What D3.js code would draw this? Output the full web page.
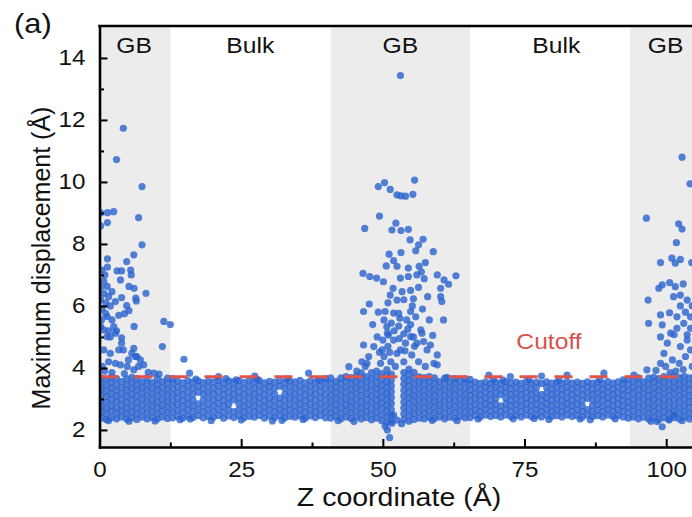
<!DOCTYPE html>
<html>
<head>
<meta charset="utf-8">
<script src="https://cdn.jsdelivr.net/npm/d3@7/dist/d3.min.js"></script>
<style>
body{margin:0;background:#fff;}
svg text{font-family:"Liberation Sans",Arial,sans-serif;fill:#111;}
</style>
</head>
<body>
<svg id="grafico" width="692" height="517"></svg>
<script>
// regioes GB (sombreadas) em Z
var regioesGB = [[-5, 12.5], [40.8, 65.4], [93.6, 115]];
var rotulos = ["GB", "Bulk", "GB", "Bulk", "GB"];
var rotulosZ = [6.1, 26.6, 53.1, 80.6, 99.9];

var ticksX = [0, 25, 50, 75, 100];
var ticksXMenor = [12.5, 37.5, 62.5, 87.5];
var ticksY = [2, 4, 6, 8, 10, 12, 14];
var ticksYMenor = [3, 5, 7, 9, 11, 13];

var cutoff = 3.72;

// pontos acima/abaixo da faixa densa [z, deslocamento]
var pontosGB1 = [[4.2,11.73],[3.0,10.72],[7.5,9.85],[0.2,9.0],[1.4,9.01],[2.5,9.04],[1.4,8.69],[6.9,8.85],[7.5,7.97],[0.2,8.58],[1.4,7.52],[6.05,7.65],[4.8,7.43],
	[1.4,7.25],[3.1,7.13],[3.9,7.13],[5.5,7.16],[5.6,7.0],[3.7,6.84],[5.2,6.63],[6.1,6.57],[1.35,6.63],[0.75,6.8],[2.2,6.46],[3.9,6.27],[6.4,6.25],[6.5,6.16],[8.2,6.41],
	[4.8,6.01],[5.2,5.85],[4.4,5.75],[6.1,5.34],[11.35,5.5],[12.5,5.4],[1.1,5.75],[1.35,5.66],[2.2,5.55],[2.5,5.33],[0.35,5.55],[0.75,5.23],[3.9,4.97],
	[0.4,7.16],[0.95,7.0],[0.2,6.6],[0.8,6.4],[1.6,6.3],[0.2,6.2],[1.1,6.1],[1.9,6.0],[2.8,6.14],[0.5,5.9],[3.4,5.7],[0.2,5.33],[1.6,5.2],[3.0,5.2],[1.9,5.0],
	[1.35,5.01],[2.8,5.12],[3.9,4.8],[4.2,4.58],[5.7,4.47],[6.6,4.37],[7.2,4.26],[1.6,4.2],[2.8,4.15],[3.7,4.1],[4.9,4.05],[6.05,3.94],[7.8,4.1],[11.1,4.69],
	[14.9,4.28],[9.6,3.83],[15.9,3.83],[6.05,4.63],[6.3,4.37],[0.75,4.58],[1.9,4.47],[3.4,4.58],[5.1,4.26],[0.5,4.05],[6.9,4.05],
	[2.2,3.85],[4.4,3.82],[8.6,3.86],[10.5,3.8],[0.9,3.9]];

var pontosGB2 = [[53.1,13.43],
	[49.2,9.85],[50.3,9.98],[51.3,9.76],[52.5,9.58],[53.2,9.55],[54.0,9.54],[55.3,9.6],[55.6,10.06],
	[49.4,8.9],[46.8,8.5],[52.3,8.67],[51.6,8.45],[53.2,8.43],[54.5,8.47],[54.8,8.13],[57.1,8.15],[56.3,7.97],[55.8,7.78],[53.2,7.72],[58.9,7.75],
	[51.1,7.67],[51.9,7.46],[50.6,7.29],[52.5,7.28],[54.5,7.22],[56.4,7.28],[57.5,7.4],[56.8,7.1],[46.5,7.05],[47.7,6.95],[48.9,6.9],[50.1,6.78],
	[53.1,6.9],[54.5,6.95],[56.0,7.0],[57.3,6.88],[59.6,7.0],[60.8,6.84],[61.6,6.7],[62.9,6.97],[51.8,6.57],[53.4,6.46],[54.9,6.5],[56.3,6.6],
	[60.2,6.57],[57.9,6.3],[60.2,6.3],[60.4,6.14],[51.3,6.35],[52.5,6.19],[53.7,6.2],[55.4,6.23],[47.6,6.06],[46.6,5.82],[49.2,5.8],[50.4,5.82],
	[51.9,5.77],[52.8,5.76],[54.9,5.82],[58.2,5.55],[60.7,5.55],[50.7,5.33],[52.8,5.35],[54.9,5.4],[56.7,5.23],[51.0,5.06],[53.7,5.1],[55.4,5.0],
	[46.6,4.74],[48.4,4.69],[50.2,4.37],[50.8,5.12],[51.9,4.9],[53.1,4.58],[54.9,5.01],[56.0,4.8],[56.9,5.12],[58.4,4.74],[59.6,4.42],[59.0,4.15],
	[57.5,4.05],[49.6,4.15],[51.4,4.2],[52.5,4.47],[53.7,4.2],[47.5,4.37],[49.0,5.0],[49.9,4.58],[52.2,4.05],[54.0,4.8],[55.1,4.42],[56.3,4.2],
	[57.8,4.58],[59.6,4.1],[46.9,4.05],[46.3,4.2],[45.4,3.9],[44.0,4.04],[47.2,4.15],
	[50.2,5.55],[51.5,5.45],[53.0,5.6],[54.2,5.55],[55.8,5.65],[50.9,4.7],[52.9,4.95],[55.6,4.7],[53.9,4.55],[51.2,4.5],[50.0,4.9],[52.0,5.2],
	[54.4,5.25],[57.2,4.85],[48.2,5.4],[49.4,4.5],[58.8,5.05],[55.2,6.0],[50.9,6.1],[57.0,5.9],
	[51.2,1.75],[50.8,2.0],[51.6,2.22],[52.5,2.32],[51.9,2.48],[50.4,2.12],[53.3,2.2]];

var pontosGB3 = [[102.8,10.8],[104.2,9.94],[96.5,8.83],[102.2,8.65],[102.8,8.48],[101.8,8.04],[99.0,7.4],[101.0,7.54],[101.6,7.38],[102.5,7.5],
	[99.3,6.68],[100.6,6.75],[101.6,6.62],[103.0,6.71],[98.7,6.57],[101.3,6.3],[102.5,6.35],[103.7,6.19],[96.8,6.19],[99.0,5.71],[100.6,5.78],
	[101.9,5.65],[96.9,5.44],[99.3,5.39],[99.0,5.0],[102.5,6.0],[103.4,5.8],[104.3,5.65],[103.1,5.44],[104.3,5.28],[101.9,5.28],[100.8,5.12],
	[103.7,5.07],[104.6,6.0],[104.5,7.4],[100.2,4.8],[101.4,5.07],[102.5,4.69],[103.7,4.9],[99.6,4.47],[101.1,4.26],[102.3,4.15],[103.4,4.37],
	[104.6,4.05],[99.9,4.05],[104.3,4.58],[101.7,3.9],[99.0,4.15],[98.2,3.92],[100.7,3.85],[103.0,3.95],
	[99.3,2.1],[100.5,2.32],[101.4,2.48],[98.4,2.27]];

var pontosBulk = [[36.9,3.83],[27.4,3.74],[21.0,3.72],[68.7,3.77],[72.5,3.72],[78.0,3.74],[82.5,3.77],[89.0,3.83],[94.3,3.77],[96.6,3.94]];

// pontos soltos nas bordas da faixa
var pontosBorda = [[14.2,2.33],[17.0,3.64],[19.7,2.30],[22.3,3.66],[25.0,2.32],[27.8,3.63],[30.5,2.29],[33.1,3.65],[35.9,2.34],[38.6,3.62],
	[42.1,2.30],[44.9,2.27],[58.7,2.31],[61.3,3.70],[66.8,2.35],[69.5,3.62],[73.0,2.36],[75.8,3.63],[79.3,2.34],[81.1,3.60],[84.8,2.35],
	[88.3,3.62],[91.0,2.36],[16.0,2.35],[24.1,3.62],[32.2,2.31],[71.2,3.61],[86.6,2.33],[76.7,2.37],[63.1,2.30],[9.8,2.29],[5.2,2.28],
	[1.6,2.30],[97.3,2.28],[102.8,2.30],[105.5,2.29]];

// faixa densa: colunas [z, [deslocamentos]]
var colunasBanda = [
	[0.3,[2.38,2.56,2.75,2.94,3.12,3.30,3.49,3.67]],[1.2,[2.34,2.52,2.70,2.90,3.08,3.27,3.45,3.64]],[2.1,[2.40,2.60,2.78,2.97,3.16,3.35,3.53,3.70]],
	[3.0,[2.36,2.54,2.72,2.92,3.10,3.28,3.47,3.66]],[3.9,[2.42,2.61,2.80,2.99,3.18,3.37,3.56]],[4.8,[2.35,2.53,2.71,2.90,3.09,3.27,3.46,3.65]],
	[5.7,[2.39,2.58,2.77,2.96,3.14,3.33,3.52,3.70]],[6.6,[2.34,2.52,2.72,2.91,3.10,3.29,3.48,3.66]],[7.5,[2.41,2.60,2.79,2.98,3.17,3.36,3.55]],
	[8.4,[2.36,2.55,2.74,2.93,3.12,3.31,3.50,3.68]],[9.3,[2.40,2.58,2.77,2.96,3.15,3.34,3.53]],[10.2,[2.35,2.53,2.72,2.91,3.10,3.29,3.47,3.65]],
	[11.1,[2.42,2.61,2.80,2.99,3.18,3.37,3.56]],[12.0,[2.37,2.56,2.75,2.94,3.13,3.32,3.51,3.67]],
	[12.9,[2.39,2.57,2.76,2.95,3.14,3.33,3.52,3.66]],[13.8,[2.44,2.63,2.82,3.01,3.20,3.39,3.57]],[14.7,[2.38,2.57,2.76,2.95,3.14,3.33,3.52]],
	[15.6,[2.45,2.64,2.83,3.02,3.21,3.40,3.59]],[16.5,[2.40,2.59,2.78,2.97,3.16,3.35,3.54]],[17.4,[2.46,2.65,2.84,3.22,3.41,3.58]],
	[18.3,[2.39,2.58,2.77,2.96,3.15,3.34,3.53]],[19.2,[2.44,2.63,2.82,3.01,3.20,3.39,3.57]],[20.1,[2.41,2.60,2.79,2.98,3.17,3.36,3.55]],
	[21.0,[2.47,2.66,2.85,3.04,3.23,3.42,3.60]],[21.9,[2.38,2.57,2.76,2.95,3.14,3.33,3.52]],[22.8,[2.45,2.64,2.83,3.02,3.21,3.40,3.58]],
	[23.7,[2.40,2.59,2.97,3.16,3.35,3.54]],[24.6,[2.46,2.65,2.84,3.03,3.22,3.41,3.59]],[25.5,[2.39,2.58,2.77,2.96,3.15,3.34,3.53]],
	[26.4,[2.44,2.63,2.82,3.01,3.20,3.39,3.58]],[27.3,[2.41,2.60,2.79,2.98,3.17,3.36,3.55]],[28.2,[2.47,2.66,2.85,3.04,3.23,3.42,3.60]],
	[29.1,[2.38,2.57,2.76,2.95,3.14,3.33,3.52]],[30.0,[2.45,2.64,2.83,3.02,3.21,3.40,3.57]],[30.9,[2.40,2.59,2.78,2.97,3.16,3.35,3.54]],
	[31.8,[2.46,2.65,2.84,3.03,3.41,3.59]],[32.7,[2.39,2.58,2.77,2.96,3.15,3.34,3.53]],[33.6,[2.44,2.63,2.82,3.01,3.20,3.39,3.57]],
	[34.5,[2.41,2.60,2.79,2.98,3.17,3.36,3.55]],[35.4,[2.46,2.65,2.84,3.03,3.22,3.41,3.60]],[36.3,[2.38,2.57,2.76,2.95,3.14,3.33,3.52]],
	[37.2,[2.45,2.64,2.83,3.02,3.21,3.40,3.58]],[38.1,[2.40,2.59,2.78,2.97,3.16,3.35,3.54]],[39.0,[2.46,2.65,2.84,3.03,3.22,3.41,3.59]],
	[39.9,[2.39,2.58,2.77,2.96,3.15,3.34,3.53,3.66]],
	[40.8,[2.38,2.56,2.75,2.94,3.13,3.32,3.51,3.68]],[41.7,[2.43,2.62,2.81,3.00,3.19,3.38,3.57]],[42.6,[2.36,2.55,2.74,2.93,3.12,3.31,3.50,3.68]],
	[43.5,[2.42,2.61,2.80,2.99,3.18,3.37,3.56,3.72]],[44.4,[2.37,2.56,2.75,2.94,3.13,3.32,3.51,3.69]],[45.3,[2.41,2.60,2.79,2.98,3.17,3.36,3.55,3.73]],
	[46.2,[2.35,2.54,2.73,2.92,3.11,3.30,3.49,3.68,3.84]],[47.1,[2.40,2.59,2.78,2.97,3.16,3.35,3.54,3.72]],
	[48.0,[2.33,2.52,2.71,2.90,3.09,3.28,3.47,3.66,3.85]],[48.9,[2.38,2.57,2.76,2.95,3.14,3.33,3.52,3.71,3.90]],
	[49.8,[2.30,2.49,2.68,2.87,3.06,3.25,3.44,3.63,3.82]],[50.7,[2.24,2.43,2.62,2.81,3.00,3.19,3.38,3.57,3.76,3.95]],
	[51.5,[2.28,2.47,2.66,2.85,3.04,3.23,3.42,3.61,3.80]],[53.7,[2.33,2.52,2.71,2.90,3.09,3.28,3.47,3.66,3.85]],
	[54.6,[2.28,2.47,2.66,2.85,3.04,3.23,3.42,3.61,3.80,3.96]],[55.5,[2.34,2.53,2.72,2.91,3.10,3.29,3.48,3.67,3.86]],
	[56.4,[2.38,2.57,2.76,2.95,3.14,3.33,3.52,3.71]],[57.3,[2.36,2.55,2.74,2.93,3.12,3.31,3.50,3.69]],[58.2,[2.41,2.60,2.79,2.98,3.17,3.36,3.55,3.72]],
	[59.1,[2.37,2.56,2.75,2.94,3.13,3.32,3.51,3.68]],[60.0,[2.42,2.61,2.80,2.99,3.18,3.37,3.56]],[60.9,[2.36,2.55,2.74,2.93,3.12,3.31,3.50,3.67]],
	[61.8,[2.41,2.60,2.79,2.98,3.17,3.36,3.55]],[62.7,[2.38,2.57,2.76,2.95,3.14,3.33,3.52,3.66]],[63.6,[2.43,2.62,2.81,3.00,3.19,3.38,3.57]],
	[64.5,[2.39,2.58,2.77,2.96,3.15,3.34,3.53,3.65]],
	[65.4,[2.40,2.58,2.76,2.94,3.12,3.30,3.48,3.63]],[66.3,[2.46,2.64,2.82,3.00,3.18,3.36,3.54]],[67.2,[2.42,2.60,2.78,2.96,3.14,3.32,3.50]],
	[68.1,[2.48,2.66,2.84,3.02,3.20,3.38,3.55]],[69.0,[2.43,2.61,2.79,2.97,3.15,3.33,3.51]],[69.9,[2.47,2.65,2.83,3.01,3.19,3.37,3.54]],
	[70.8,[2.42,2.60,2.78,3.14,3.32,3.50]],[71.7,[2.48,2.66,2.84,3.02,3.20,3.38,3.55]],[72.6,[2.43,2.61,2.79,2.97,3.15,3.33,3.51]],
	[73.5,[2.46,2.64,2.82,3.00,3.18,3.36,3.54]],[74.4,[2.42,2.60,2.78,2.96,3.14,3.32,3.50]],[75.3,[2.48,2.66,2.84,3.02,3.20,3.38,3.56]],
	[76.2,[2.43,2.61,2.79,2.97,3.15,3.33,3.51]],[77.1,[2.47,2.65,2.83,3.01,3.19,3.37,3.54]],[78.0,[2.42,2.60,2.78,2.96,3.14,3.50]],
	[78.9,[2.48,2.66,2.84,3.02,3.20,3.38,3.55]],[79.8,[2.43,2.61,2.79,2.97,3.15,3.33,3.51]],[80.7,[2.46,2.64,2.82,3.00,3.18,3.36,3.54]],
	[81.6,[2.42,2.60,2.78,2.96,3.14,3.32,3.50]],[82.5,[2.48,2.66,2.84,3.02,3.20,3.38,3.56]],[83.4,[2.43,2.61,2.79,2.97,3.15,3.33,3.51]],
	[84.3,[2.47,2.65,2.83,3.01,3.19,3.37,3.54]],[85.2,[2.42,2.60,2.78,2.96,3.14,3.32,3.50]],[86.1,[2.48,2.66,3.02,3.20,3.38,3.55]],
	[87.0,[2.43,2.61,2.79,2.97,3.15,3.33,3.51]],[87.9,[2.46,2.64,2.82,3.00,3.18,3.36,3.54]],[88.8,[2.42,2.60,2.78,2.96,3.14,3.32,3.50]],
	[89.7,[2.48,2.66,2.84,3.02,3.20,3.38,3.56]],[90.6,[2.43,2.61,2.79,2.97,3.15,3.33,3.51]],[91.5,[2.47,2.65,2.83,3.01,3.19,3.37,3.55]],
	[92.4,[2.42,2.60,2.78,2.96,3.14,3.32,3.50,3.62]],[93.3,[2.38,2.56,2.74,2.92,3.10,3.28,3.46,3.64]],
	[94.2,[2.42,2.61,2.80,2.99,3.18,3.37,3.56]],[95.1,[2.36,2.55,2.74,2.93,3.12,3.31,3.50,3.68]],[96.0,[2.41,2.60,2.79,2.98,3.17,3.36,3.55]],
	[96.9,[2.35,2.54,2.73,2.92,3.11,3.30,3.49,3.67]],[97.8,[2.40,2.59,2.78,2.97,3.16,3.35,3.54,3.70]],[98.7,[2.34,2.53,2.72,2.91,3.10,3.29,3.48,3.66]],
	[99.6,[2.39,2.58,2.77,2.96,3.15,3.34,3.53,3.72]],[100.5,[2.35,2.54,2.73,2.92,3.11,3.30,3.49,3.68]],[101.4,[2.40,2.59,2.78,2.97,3.16,3.35,3.54,3.74]],
	[102.3,[2.36,2.55,2.74,2.93,3.12,3.31,3.50,3.69]],[103.2,[2.41,2.60,2.79,2.98,3.17,3.36,3.55,3.73]],[104.1,[2.35,2.54,2.73,2.92,3.11,3.30,3.49,3.68]],
	[105.0,[2.40,2.59,2.78,2.97,3.16,3.35,3.54,3.71]],[105.9,[2.36,2.55,2.74,2.93,3.12,3.31,3.50,3.68]]
];

var esq = 99.5, topo = 26, base = 447;
var corPonto = "#2b63cf";

var svg = d3.select("#grafico");

var x = d3.scaleLinear().domain([0, 110]).range([esq, esq + 110*5.667]);
var y = d3.scaleLinear().domain([1.45, 15.03]).range([base, topo]);

// estica o texto na horizontal (a figura original esta um pouco alargada)
function esticar(sel, fator){
	sel.each(function(){
		var w = this.getComputedTextLength();
		d3.select(this).attr("textLength", w*fator).attr("lengthAdjust", "spacingAndGlyphs");
	});
}

svg.append("clipPath").attr("id", "areaPlot")
	.append("rect")
	.attr("x", esq).attr("y", topo)
	.attr("width", 800).attr("height", base - topo);

var plot = svg.append("g").attr("clip-path", "url(#areaPlot)");

plot.selectAll(".sombra")
	.data(regioesGB)
	.enter().append("rect")
	.attr("class", "sombra")
	.attr("x", function(d){ return x(d[0]); })
	.attr("y", topo)
	.attr("width", function(d){ return x(d[1]) - x(d[0]); })
	.attr("height", base - topo)
	.attr("fill", "#ececec");

var pontos = [];
for(var i = 0; i < colunasBanda.length; i++){
	for(var j = 0; j < colunasBanda[i][1].length; j++){
		pontos.push([colunasBanda[i][0], colunasBanda[i][1][j]]);
	}
}
pontos = pontos.concat(pontosBorda, pontosBulk, pontosGB1, pontosGB2, pontosGB3);

plot.selectAll(".ponto")
	.data(pontos)
	.enter().append("circle")
	.attr("class", "ponto")
	.attr("cx", function(d){ return x(d[0]); })
	.attr("cy", function(d){ return y(d[1]); })
	.attr("r", 3.6)
	.attr("fill", corPonto)
	.attr("fill-opacity", 0.8);

plot.append("line")
	.attr("x1", x(0)).attr("x2", x(110))
	.attr("y1", y(cutoff)).attr("y2", y(cutoff))
	.attr("stroke", "#e2534a")
	.attr("stroke-width", 3)
	.attr("stroke-dasharray", "18,17");

// eixos
var eixoX = svg.append("g")
	.attr("transform", "translate(0," + base + ")")
	.call(d3.axisBottom(x).tickValues(ticksX).tickSizeInner(-8).tickSizeOuter(0).tickPadding(14));
var eixoXm = svg.append("g")
	.attr("transform", "translate(0," + base + ")")
	.call(d3.axisBottom(x).tickValues(ticksXMenor).tickFormat("").tickSizeInner(-4.5).tickSizeOuter(0));
eixoXm.select(".domain").remove();

var eixoY = svg.append("g")
	.attr("transform", "translate(" + esq + ",0)")
	.call(d3.axisLeft(y).tickValues(ticksY).tickSizeInner(-8).tickSizeOuter(0).tickPadding(14));
var eixoYm = svg.append("g")
	.attr("transform", "translate(" + esq + ",0)")
	.call(d3.axisLeft(y).tickValues(ticksYMenor).tickFormat("").tickSizeInner(-4.5).tickSizeOuter(0));
eixoYm.select(".domain").remove();

svg.selectAll(".domain").attr("stroke", "#000").attr("stroke-width", 2.6).attr("stroke-linecap", "square");
svg.selectAll(".tick line").attr("stroke", "#000").attr("stroke-width", 2);
svg.selectAll(".tick text")
	.attr("font-family", "Liberation Sans, Arial, sans-serif")
	.attr("font-size", 22)
	.attr("fill", "#111");
esticar(eixoX.selectAll(".tick text"), 1.1);
esticar(eixoY.selectAll(".tick text"), 1.1);

svg.append("line")
	.attr("x1", esq).attr("x2", 692)
	.attr("y1", topo).attr("y2", topo)
	.attr("stroke", "#000").attr("stroke-width", 2.6)
	.attr("stroke-linecap", "square");

// rotulos das regioes
var txtRegioes = svg.selectAll(".rotulo")
	.data(rotulos)
	.enter().append("text")
	.attr("class", "rotulo")
	.attr("x", function(d, i){ return x(rotulosZ[i]); })
	.attr("y", 53)
	.attr("text-anchor", "middle")
	.attr("font-size", 22)
	.text(function(d){ return d; });
esticar(txtRegioes, 1.12);

var txtCut = svg.append("text")
	.attr("x", 549).attr("y", 349)
	.attr("text-anchor", "middle")
	.attr("font-size", 22)
	.style("fill", "#d6524e")
	.text("Cutoff");
esticar(txtCut, 1.12);

var tituloX = svg.append("text")
	.attr("x", 399).attr("y", 506)
	.attr("text-anchor", "middle")
	.attr("font-size", 25)
	.text("Z coordinate (Å)");
esticar(tituloX, 1.14);

svg.append("text")
	.attr("transform", "translate(50,258) rotate(-90)")
	.attr("text-anchor", "middle")
	.attr("font-size", 25)
	.text("Maximum displacement (Å)");

var letra = svg.append("text")
	.attr("x", 14).attr("y", 33)
	.attr("font-size", 28)
	.text("(a)");
esticar(letra, 1.1);
</script>
</body>
</html>
